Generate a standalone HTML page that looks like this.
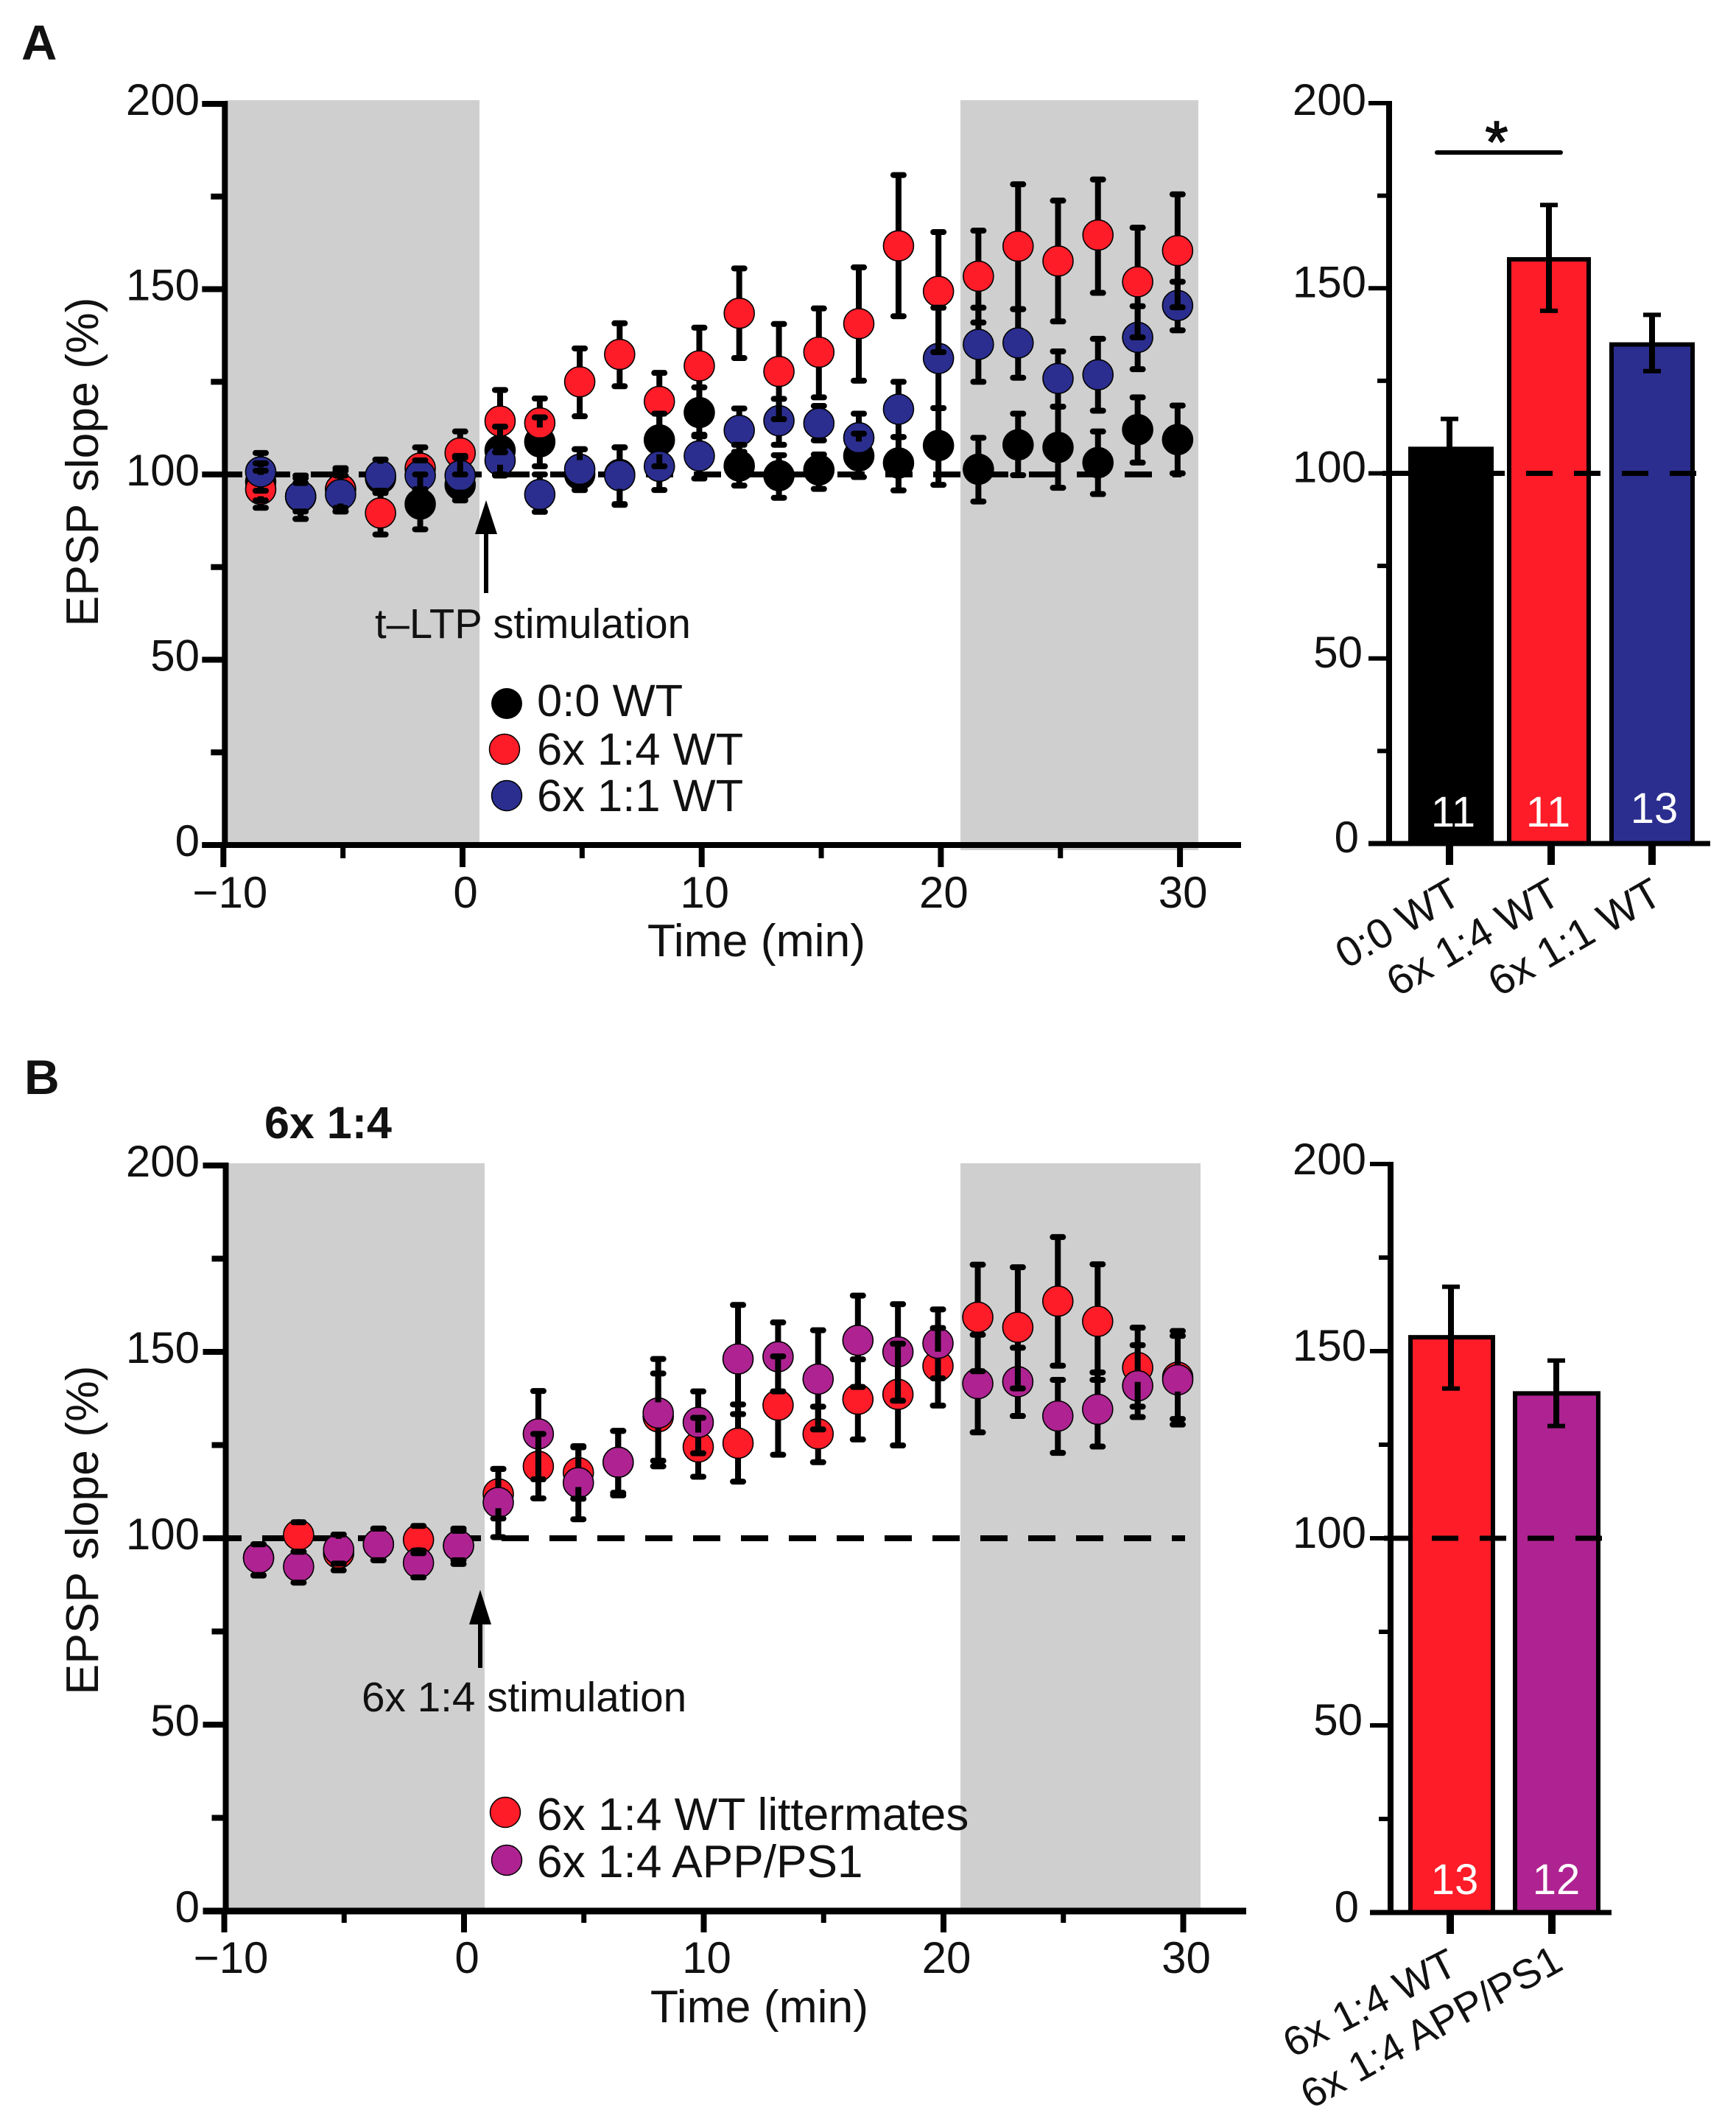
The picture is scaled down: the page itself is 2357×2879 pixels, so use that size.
<!DOCTYPE html>
<html lang="en">
<head>
<meta charset="utf-8">
<title>EPSP slope after t-LTP stimulation</title>
<style>
html,body{margin:0;padding:0;background:#fff;}
svg{display:block;}
text{font-family:"Liberation Sans",Arial,sans-serif;fill:#111;}
</style>
</head>
<body>
<svg id="fig" xmlns="http://www.w3.org/2000/svg" width="2357" height="2879" viewBox="0 0 2357 2879">
  <rect x="0" y="0" width="2357" height="2879" fill="#fff"/>
  <g id="layer-a"></g>
  <g id="layer-a-bars"></g>
  <g id="layer-b"></g>
  <g id="layer-b-bars"></g>

  <text x="29" y="81" font-size="67" font-weight="bold" fill="#231f20">A</text>
  <text x="33" y="1485" font-size="66" font-weight="bold" fill="#231f20">B</text>
  <text x="359" y="1545" font-size="61" font-weight="bold" fill="#231f20">6x 1:4</text>

  <text transform="translate(133,627) rotate(-90)" text-anchor="middle" font-size="62.5">EPSP slope (%)</text>
  <text transform="translate(133,2077) rotate(-90)" text-anchor="middle" font-size="62.5">EPSP slope (%)</text>
  <text x="1027" y="1298" text-anchor="middle" font-size="62.5">Time (min)</text>
  <text x="1031" y="2745" text-anchor="middle" font-size="62.5">Time (min)</text>

  <g>
    <line x1="660" y1="720" x2="660" y2="805" stroke="#000" stroke-width="6"/>
    <polygon points="660,679 645,725 675,725" fill="#000"/>
  </g>
  <text x="509" y="866" font-size="56.2" fill="#231f20">t–LTP stimulation</text>
  <g>
    <line x1="652" y1="2200" x2="652" y2="2264" stroke="#000" stroke-width="6"/>
    <polygon points="652,2158 637,2205 667,2205" fill="#000"/>
  </g>
  <text x="491" y="2323" font-size="56.7" fill="#231f20">6x 1:4 stimulation</text>

  <g>
    <g>
      <circle cx="688" cy="955" r="21" fill="#000"/>
      <text x="729" y="972" font-size="61.5">0:0 WT</text>
    </g>
    <g>
      <circle cx="685" cy="1017" r="20.5" fill="#fe1c28" stroke="#000" stroke-width="1.5"/>
      <text x="729" y="1038" font-size="61.5">6x 1:4 WT</text>
    </g>
    <g>
      <circle cx="688" cy="1080" r="20.5" fill="#2b2e8f" stroke="#000" stroke-width="1.5"/>
      <text x="729" y="1101" font-size="61.5">6x 1:1 WT</text>
    </g>
  </g>
  <g>
    <g>
      <circle cx="686" cy="2460" r="20.5" fill="#fe1c28" stroke="#000" stroke-width="1.5"/>
      <text x="729" y="2484" font-size="62.2">6x 1:4 WT littermates</text>
    </g>
    <g>
      <circle cx="688" cy="2525" r="20.5" fill="#ae2391" stroke="#000" stroke-width="1.5"/>
      <text x="729" y="2548" font-size="62.2">6x 1:4 APP/PS1</text>
    </g>
  </g>

  <g>
    <line x1="1951" y1="207" x2="2119" y2="207" stroke="#000" stroke-width="6" stroke-linecap="round"/>
    <text x="2032" y="220" text-anchor="middle" font-size="80" stroke="#000" stroke-width="1.5">*</text>
  </g>

  <text transform="translate(1987,1224) rotate(-30)" text-anchor="end" font-size="57">0:0 WT</text>
  <text transform="translate(2122,1224) rotate(-30)" text-anchor="end" font-size="57">6x 1:4 WT</text>
  <text transform="translate(2260,1224) rotate(-30)" text-anchor="end" font-size="57">6x 1:1 WT</text>
  <text transform="translate(1982,2678) rotate(-27)" text-anchor="end" font-size="56">6x 1:4 WT</text>
  <text transform="translate(2125,2672) rotate(-29)" text-anchor="end" font-size="55.5">6x 1:4 APP/PS1</text>
</svg>

<script>
// ---------- Shared axis tick values ----------
const xTickLabels = [-10, 0, 10, 20, 30];
const xMinorTicks = [-5, 5, 15, 25];
const yTickLabels = [0, 50, 100, 150, 200];
const yMinorTicks = [25, 75, 125, 175];

// ---------- Panel A time course ----------
const timesA = [-8.44,-6.77,-5.1,-3.43,-1.77,-0.1,1.57,3.23,4.9,6.57,8.23,9.9,11.57,13.23,14.9,16.57,18.23,19.9,21.57,23.23,24.9,26.57,28.23,29.9];
const blackA = [98,94,96,99,92,97.2,106.5,108.8,100,100,109.3,116.7,102.3,99.7,101.2,105,103.1,107.8,101.4,108,107.3,103.2,112.1,109.4];
const blackAHi = [103,99.7,101.7,104,100,105,112.9,115.4,106.8,107.3,116.4,123.5,108,105.2,105.4,111,110.1,117.9,109.9,116.4,118.3,111.6,120.8,118.6];
const blackALo = [93,88,90,95,85.2,93,99.7,102.2,95.8,92,102.2,110.3,97,93.7,96.1,99.3,95.7,97.2,92.7,99.8,96.4,94.7,103.2,100.3];
const redA = [96,94,96,89.6,101.7,105.8,114.4,113.9,125,132.4,119.7,129.3,143.5,127.8,133,140.7,161.7,149.4,153.5,161.6,157.6,164.6,152,160.4];
const redAHi = [101,99,101,95.6,107.3,111.6,122.8,120.5,134,140.8,127.4,139.6,155.6,140.6,144.8,155.9,180.8,165.4,165.8,178.3,173.9,179.6,166.6,175.6];
const redALo = [91,88,91,83.8,96,100,106,107,115.7,123.8,112,119,131.4,114.9,120.8,125.3,142.7,133,141,144.6,141.3,149,137,145.1];
const blueA = [100.7,94.1,94.6,99.7,99.7,99.7,103.8,94.6,101.4,99.7,102.2,105,111.9,114.5,113.8,109.9,117.6,131.3,135.1,135.5,125.9,126.9,137,145.6];
const blueAHi = [105.8,97.7,99.7,104,103.8,104.5,107.5,100,106.8,107.3,107,110.7,117.8,120.4,118.5,116.4,125,145,145,144.6,133.2,136.6,145.4,152];
const blueALo = [95.6,90,90,95.1,96,95.1,100,89.9,95.8,91.8,95.8,98.9,106.1,108,109.2,103.8,110.1,117.9,125,126.1,118.3,117.2,128.4,138.9];

// ---------- Panel A bars ----------
const barCatsA = ['0:0 WT','6x 1:4 WT','6x 1:1 WT'];
const barValsA = [107.2,158.4,135.4];
const barHiA = [114.7,172.5,142.8];
const barLoA = [100,143.9,127.6];
const barNsA = ['11','11','13'];

// ---------- Panel B time course ----------
const timesB = [-8.57,-6.9,-5.23,-3.57,-1.9,-0.23,1.43,3.1,4.77,6.43,8.1,9.77,11.43,13.1,14.77,16.43,18.1,19.77,21.43,23.1,24.77,26.43,28.1,29.77];
const redB = [94.8,100.9,96,98.4,99.6,98,111.9,119.3,117.6,120.4,132.6,124.5,125.5,135.7,128,137.3,138.6,146.2,159.3,156.6,163.6,158.2,145.8,143.2];
const redBHi = [98.4,104.3,101,102.6,103.3,102.6,118.6,128,124.4,128.8,144.2,132.3,135.9,148.8,135.3,148,152.2,156.4,173.4,172.7,180.8,173.5,156.5,155.6];
const redBLo = [90,96.4,91.4,94.1,96,93.1,105.3,110.7,110.6,111.5,119.3,116.5,115.2,122.4,120.4,126.5,124.9,135.6,144.8,140.2,146.3,142.5,135.3,130.5];
const purpleB = [94.7,92.4,97,98.4,93.4,98,109.6,128,114.9,120.4,133.6,131.1,148.1,148.7,142.7,153.1,150,152.3,141.5,142,132.8,134.6,140.9,142.5];
const purpleBHi = [98.4,96.4,101,102.6,96.7,102,118.6,139.5,124.7,128.8,148.1,139.4,162.6,157.9,155.8,165.1,162.8,161.4,154.6,151.1,142.5,144.5,151.8,154.3];
const purpleBLo = [90.1,88.1,93.2,94.1,89.5,94.1,100.3,115.8,105.1,112.2,120.8,122.8,133.3,139.4,129.2,140.6,136.9,142.9,128.4,132.8,122.9,124.6,132.5,132];

// ---------- Panel B bars ----------
const barCatsB = ['6x 1:4 WT','6x 1:4 APP/PS1'];
const barValsB = [154.3,139.3];
const barHiB = [167.2,147.5];
const barLoB = [140,130];
const barNsB = ['13','12'];

const NS = 'http://www.w3.org/2000/svg';
const COLORS = {black:'#000000', red:'#fe1c28', blue:'#2b2e8f', purple:'#ae2391', gray:'#cfcfcf'};

function mk(parent, tag, attrs, txt){
  const el = document.createElementNS(NS, tag);
  for (const k in attrs) el.setAttribute(k, attrs[k]);
  if (txt !== undefined) el.textContent = txt;
  parent.appendChild(el);
  return el;
}
function ln(parent, x1, y1, x2, y2, w, cap){
  return mk(parent, 'line', {x1, y1, x2, y2, stroke:'#000', 'stroke-width':w, 'stroke-linecap':cap || 'butt'});
}

function drawTimeCourse(cfg){
  const root = document.getElementById(cfg.layer);
  const X = t => cfg.x0 + cfg.kx * t;
  const Y = v => cfg.y0 - cfg.ky * v;
  const axisX = X(-10) + 2;
  const R = 20.5;

  cfg.shade.forEach(function(s){
    const r = mk(root, 'rect', {x:s[0], y:cfg.grayTop, width:s[1]-s[0], height:s[2]-cfg.grayTop, fill:COLORS.gray});
    
    
  });

  // Dashed baseline at 100 %
  const dash = ln(root, cfg.dashStart, Y(100), cfg.dashEnd, Y(100), 8);
  dash.setAttribute('stroke-dasharray', '37 28');
  
  

  // Markers: black, then red, then blue / purple on top
  cfg.series.forEach(function(s){
    const g = mk(root, 'g', {});
    
    
    s.vals.forEach(function(v, i){
      const c = mk(g, 'circle', {cx:X(cfg.times[i]), cy:Y(v), r:R, fill:s.color, stroke:'#000', 'stroke-width':1.6});
      
      
    });
  });

  // Error bars sit above other series' markers, but stop at their own marker
  cfg.series.forEach(function(s){
    const g = mk(root, 'g', {});
    
    
    s.vals.forEach(function(v, i){
      const x = X(cfg.times[i]), c = Y(v), hi = Y(s.hi[i]), lo = Y(s.lo[i]);
      if (c - R > hi) ln(g, x, c - R + 1, x, hi, 8);
      if (lo > c + R) ln(g, x, c + R - 1, x, lo, 8);
      if (c - hi > 6) ln(g, x - 7, hi, x + 7, hi, 8, 'round');
      if (lo - c > 6) ln(g, x - 7, lo, x + 7, lo, 8, 'round');
    });
  });

  // Axes
  const axes = mk(root, 'g', {});
  
  
  ln(axes, axisX, Y(200) - 4, axisX, Y(0) + 3, 8);
  ln(axes, axisX - 31, Y(0), cfg.axisEnd, Y(0), cfg.axisW);
  yTickLabels.forEach(function(v){
    ln(axes, axisX - 31, Y(v), axisX, Y(v), 8);
    const t = mk(axes, 'text', {x:271, y:Y(v) + 15, 'text-anchor':'end', 'font-size':60}, String(v));
    
    
  });
  yMinorTicks.forEach(function(v){
    ln(axes, axisX - 19, Y(v), axisX, Y(v), 8);
  });
  xTickLabels.forEach(function(v){
    ln(axes, X(v), Y(0), X(v), cfg.majorEnd, 8);
    const label = v < 0 ? '\u2212' + Math.abs(v) : String(v);
    const t = mk(axes, 'text', {x:X(v) + (v < 0 ? 9 : 4), y:cfg.xLabelY, 'text-anchor':'middle', 'font-size':60}, label);
    
    
  });
  xMinorTicks.forEach(function(v){
    ln(axes, X(v), Y(0), X(v), cfg.minorEnd, 7);
  });
}

function drawBars(cfg){
  const root = document.getElementById(cfg.layer);
  const Y = v => cfg.y0 - cfg.ky * v;

  cfg.vals.forEach(function(v, i){
    const b = cfg.boxes[i];
    const r = mk(root, 'rect', {x:b[0] + 3, y:Y(v) + 3, width:b[1] - b[0] - 6, height:Y(0) - Y(v) - 3, fill:cfg.colors[i], stroke:'#000', 'stroke-width':6});
    
    
  });

  cfg.vals.forEach(function(v, i){
    const x = cfg.errX[i], hi = Y(cfg.hi[i]), lo = Y(cfg.lo[i]);
    const g = mk(root, 'g', {});
    
    
    ln(g, x, hi, x, lo, 8);
    ln(g, x - 12, hi, x + 12, hi, 6);
    ln(g, x - 12, lo, x + 12, lo, 6);
    const t = mk(root, 'text', {x:cfg.nX[i], y:cfg.nY[i], 'text-anchor':'middle', 'font-size':58, style:'fill:#fff'}, cfg.ns[i]);
    
    
  });

  const dash = ln(root, cfg.dashStart, Y(100), cfg.dashEnd, Y(100), 7);
  dash.setAttribute('stroke-dasharray', '36 29');
  
  

  const axes = mk(root, 'g', {});
  
  
  ln(axes, cfg.axisX, Y(200) - 3, cfg.axisX, Y(0) + 3, 8);
  ln(axes, cfg.axisX - 28, Y(0), cfg.axisEnd, Y(0), 7);
  yTickLabels.forEach(function(v){
    ln(axes, cfg.axisX - 28, Y(v), cfg.axisX, Y(v), 6);
    const dy = v === 200 ? cfg.topDy : cfg.labelDy;
    const t = mk(axes, 'text', {x:v === 0 ? 1845 : (v === 50 ? 1850 : 1855), y:Y(v) + dy, 'text-anchor':'end', 'font-size':60}, String(v));
    
    
  });
  yMinorTicks.forEach(function(v){
    ln(axes, cfg.axisX - 16, Y(v), cfg.axisX, Y(v), 6);
  });
  cfg.tickX.forEach(function(x){
    ln(axes, x, Y(0), x, Y(0) + 29, 10);
  });
}

drawTimeCourse({
  layer:'layer-a', times:timesA, x0:628, kx:32.47, y0:1147, ky:5.03,
  grayTop:136, shade:[[306,651,1147],[1304,1627,1154]],
  dashStart:292, dashEnd:1604, axisEnd:1685, axisW:8, majorEnd:1177, minorEnd:1165, xLabelY:1232,
  series:[
    {name:'0-0-wt', color:COLORS.black, vals:blackA, hi:blackAHi, lo:blackALo},
    {name:'6x-1-4-wt', color:COLORS.red, vals:redA, hi:redAHi, lo:redALo},
    {name:'6x-1-1-wt', color:COLORS.blue, vals:blueA, hi:blueAHi, lo:blueALo}
  ]
});
drawTimeCourse({
  layer:'layer-b', times:timesB, x0:630, kx:32.55, y0:2594, ky:5.06,
  grayTop:1579, shade:[[306,658,2594],[1304,1630,2594]],
  dashStart:291, dashEnd:1609, axisEnd:1692, axisW:9, majorEnd:2623, minorEnd:2610, xLabelY:2678,
  series:[
    {name:'wt-littermates', color:COLORS.red, vals:redB, hi:redBHi, lo:redBLo},
    {name:'app-ps1', color:COLORS.purple, vals:purpleB, hi:purpleBHi, lo:purpleBLo}
  ]
});
drawBars({
  layer:'layer-a-bars', cats:barCatsA, vals:barValsA, hi:barHiA, lo:barLoA, ns:barNsA,
  y0:1145, ky:5.025, colors:[COLORS.black, COLORS.red, COLORS.blue], labelDy:12, topDy:16,
  boxes:[[1912,2028],[2046,2160],[2185,2301]], errX:[1968,2103,2243],
  nX:[1973,2102,2246], nY:[1122,1122,1117], tickX:[1968,2106,2243],
  axisX:1886, axisEnd:2322, dashStart:1877, dashEnd:2303
});
drawBars({
  layer:'layer-b-bars', cats:barCatsB, vals:barValsB, hi:barHiB, lo:barLoB, ns:barNsB,
  y0:2596, ky:5.08, colors:[COLORS.red, COLORS.purple], labelDy:13, topDy:14,
  boxes:[[1912,2030],[2054,2173]], errX:[1970,2113],
  nX:[1975,2113], nY:[2571,2571], tickX:[1969,2107],
  axisX:1888, axisEnd:2188, dashStart:1879, dashEnd:2177
});
</script>
</body>
</html>
